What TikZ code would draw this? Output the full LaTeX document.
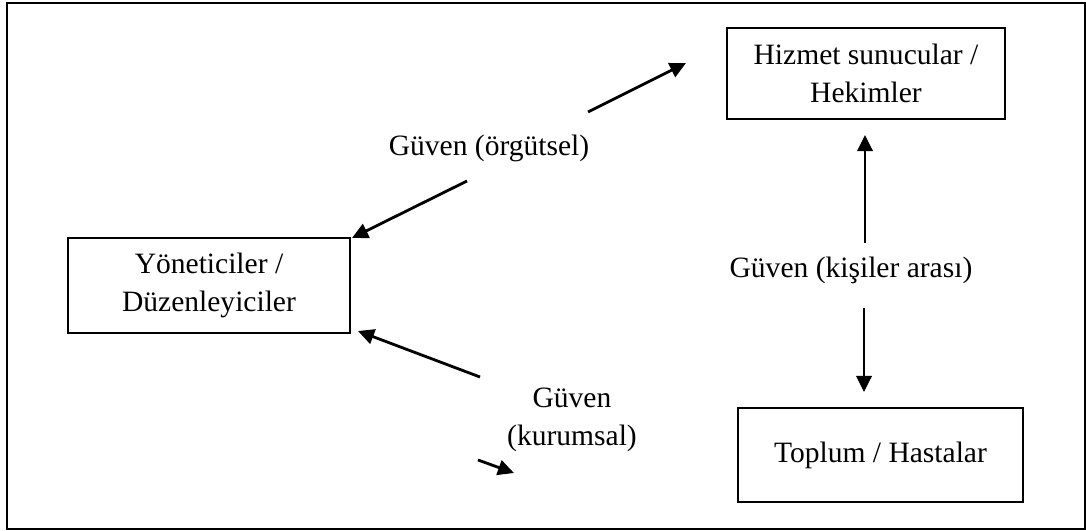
\documentclass[tikz,border=0pt]{standalone}
\usepackage{fontspec}
\setmainfont{Liberation Serif}
\usetikzlibrary{arrows.meta, positioning}

\begin{document}
\begin{tikzpicture}[x=0.025cm, y=-0.025cm,
  box/.style={draw, line width=1.4pt, align=center, inner sep=0pt,
  font=\fontsize{21}{27}\selectfont},
  lab/.style={align=center, inner sep=1pt, font=\fontsize{21}{27}\selectfont},
  arr/.style={-{Triangle[length=4mm, width=3.8mm]}, line width=2pt}
]
\useasboundingbox (0,0) rectangle (1086,531);
\draw[line width=1.1pt] (7,3) rectangle (1085,529);

% boxes
\node[box, minimum width=6.95cm, minimum height=2.275cm] (hiz) at (866,73.5) {Hizmet sunucular /\\Hekimler};
\node[box, minimum width=7.05cm, minimum height=2.375cm] (yon) at (209,285.5) {Yöneticiler /\\Düzenleyiciler};
\node[box, minimum width=7.125cm, minimum height=2.35cm] (top) at (880.5,455) {Toplum / Hastalar};

% labels
\node[lab] (org) at (489,148) {Güven (örgütsel)};
\node[lab] (kis) at (851,270) {Güven (kişiler arası)};
\node[lab] (kur) at (572,420) {Güven\\(kurumsal)};

% arrow ends
\coordinate (a1) at (588,112);  \coordinate (b1) at (686,63);
\coordinate (a2) at (467,181);  \coordinate (b2) at (352,238);
\coordinate (a3) at (480,377);  \coordinate (b3) at (358,331);
\coordinate (a4) at (478,460);  \coordinate (b4) at (514,473);
\coordinate (a5) at (865,243);  \coordinate (b5) at (865,135);
\coordinate (a6) at (864,308);  \coordinate (b6) at (864,392);

\draw[arr] (a1) -- (b1);
\draw[arr] (a2) -- (b2);
\draw[arr] (a3) -- (b3);
\draw[arr] (a4) -- (b4);
\draw[arr] (a5) -- (b5);
\draw[arr] (a6) -- (b6);
\end{tikzpicture}
\end{document}
